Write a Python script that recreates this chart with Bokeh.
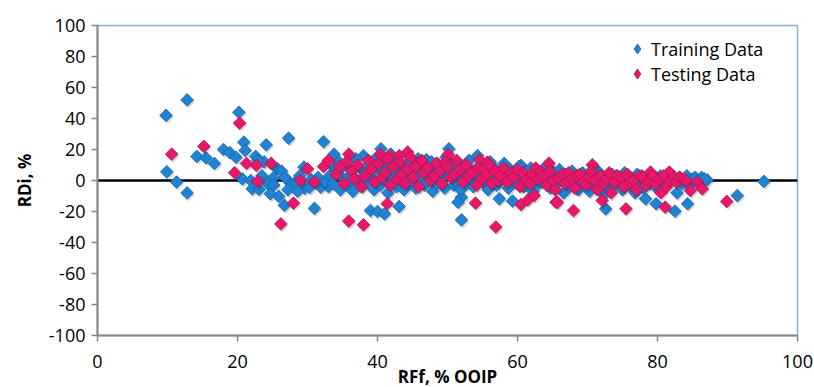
import numpy as np
from bokeh.plotting import figure
from bokeh.models import ColumnDataSource, Span, FixedTicker, Legend, LegendItem
from bokeh.transform import dodge
from bokeh.embed import file_html
from bokeh.resources import INLINE

# ---- data: RFf (% OOIP) vs relative deviation RDi (%) ----
train_rff = [
    9.8, 12.8, 9.9, 11.3, 12.8, 14.2, 15.5, 16.7, 18.0, 18.9, 19.8, 20.2,
    20.9, 21.1, 20.7, 22.6, 24.1, 21.9, 22.1, 23.1, 25.1, 25.7, 26.3, 24.7,
    25.9, 26.7, 27.3, 27.6, 29.5, 31.0, 32.3, 31.9, 33.0, 29.6, 30.3, 30.5,
    23.5, 24.3, 26.8, 28.3, 28.9, 31.5, 32.6, 27.2, 28.6, 23.8, 22.9, 25.2,
    33.8, 38.0, 40.5, 47.0, 50.2, 51.4, 54.3, 60.5, 39.0, 40.0, 41.0, 43.1,
    52.0, 51.5, 52.0, 57.4, 59.3, 95.2, 91.4, 87.1, 84.3, 82.5, 79.8, 78.3, 72.6,
    33.2, 33.6, 33.9, 34.3, 34.7, 34.5, 35.1, 35.4, 35.8, 36.2, 36.5, 36.9,
    37.1, 37.5, 37.8, 38.3, 38.6, 38.9, 39.2, 39.5, 39.7, 39.9, 40.2, 40.4,
    40.7, 40.9, 41.2, 41.5, 41.7, 41.9, 42.1, 42.4, 42.7, 42.9, 43.3, 43.6,
    43.8, 44.1, 44.3, 44.6, 44.9, 45.2, 45.5, 45.8, 46.1, 46.4, 46.7, 47.2,
    47.5, 47.7, 47.9, 48.2, 48.5, 48.8, 49.1, 49.3, 49.6, 49.8, 50.3, 50.6,
    50.9, 51.1, 51.6, 51.9, 52.3, 52.6, 52.8, 53.1, 53.3, 53.7, 54.0, 54.5,
    54.8, 55.0, 55.3, 55.5, 55.8, 56.1, 56.4, 56.7, 57.0, 57.3, 57.7, 58.1,
    58.4, 58.7, 59.0, 59.4, 59.6, 59.9, 60.2, 60.7, 60.9, 61.3, 61.6, 61.9,
    62.2, 62.5, 62.8, 63.1, 63.4, 63.8, 64.1, 64.4, 64.7, 65.0, 65.3, 65.7,
    66.0, 66.3, 66.6, 66.9, 67.2, 67.5, 67.8, 68.1, 68.4, 68.7, 69.0, 69.3,
    69.7, 70.0, 70.3, 70.6, 70.9, 71.2, 71.5, 71.8, 72.1, 72.4, 72.9, 73.2,
    73.5, 73.8, 74.1, 74.4, 74.7, 75.0, 75.3, 75.6, 75.9, 76.2, 76.5, 76.8,
    77.1, 77.4, 77.8, 78.0, 78.6, 78.9, 79.2, 79.5, 80.1, 80.4, 80.7, 81.0,
    81.4, 81.9, 82.2, 82.8, 83.1, 83.5, 83.9, 84.2, 84.6, 85.0, 85.4, 85.8, 86.3, 86.7,
]
train_rdi = [
    42, 52, 5.6, -1, -8, 15.5, 14.6, 11, 20, 18, 15, 44,
    24.7, 19.4, 1, 15.5, 23, 0, -5.4, -5.8, 1.7, 7.5, 6, -8.6,
    -10.3, -16, 27.3, -2, 8.6, -18, 25, -4.3, -4, -5, -4.5, 0.5,
    3, -2, 2, -1, 3, 2, -1, -6, -7, 12, 13, -3,
    17, 16, 20.4, 13.4, 20.4, 11.8, 16, 9.7, -19.4, -20, -21.5, -16.8,
    -10.8, -14, -25.4, -11.8, -13.3, -0.6, -9.7, 0.4, -15, -19.8, -15, -11.8, -18.3,
    3, -2, 8, 6, -6, 12, 1, 10, -3, 4, -7, 14,
    0, 8, -4, 5, -1, 11, 2, -6, 9, 15, 7, -3,
    12, 1, 4, -8, 10, 17, 0, 6, -4, 13, 3, 9,
    -6, 1, 11, -2, 7, 5, -5, 14, 2, 8, -3, 0,
    6, 12, -7, 4, -2, 9, 1, 7, -5, 15, 3, 10,
    -3, 0, 6, -6, 4, 9, -2, 13, 1, -4, 7, 3,
    10, -1, 0, 5, -6, 12, 2, 8, -3, -1, 4, 11,
    2, -5, 7, 0, 5, -2, 9, 3, -4, 6, 0, 8,
    -7, 2, -3, 5, -1, 4, 9, 1, -5, 6, 3, -2,
    7, 0, -8, 4, 2, -4, 6, -1, 3, -6, 1, 5,
    -3, 0, -7, 4, 2, -3, 6, -1, 3, -9, 1, -5,
    4, 0, 3, -3, 2, -6, 5, -1, 3, -4, 1, -8,
    4, 0, 3, -5, 2, -2, 4, 0, -6, 3, 1, -3,
    4, 0, 3, -8, 2, -2, 0, 3, -4, 1, 2, 0, 2, 1,
]

test_rff = [
    10.6, 15.2, 20.3, 19.6, 21.3, 22.7, 24.8, 22.9, 28.0, 26.2, 29.0, 30.0,
    31.0, 32.3, 33.0, 35.9, 40.4, 41.7, 43.1, 44.3, 45.7, 48.6, 50.1, 54.6,
    55.7, 64.5, 41.4, 35.9, 38.0, 54.0, 56.9, 60.5, 61.5, 62.4, 65.5, 70.7,
    81.7, 79.0, 85.7, 86.4, 84.7, 89.9, 81.1, 75.5, 72.1, 68.0, 65.7,
    34.1, 34.6, 35.2, 35.6, 36.3, 36.7, 37.2, 37.7, 38.2, 38.7, 39.1, 39.6,
    40.1, 40.6, 41.1, 41.4, 41.8, 42.3, 42.8, 43.2, 43.5, 43.9, 44.2, 44.7,
    45.1, 45.4, 45.9, 46.3, 46.6, 47.1, 47.6, 48.1, 48.4, 48.9, 49.2, 49.7,
    50.0, 50.5, 51.0, 51.3, 51.8, 52.2, 52.7, 53.0, 53.5, 54.2, 54.4, 54.9,
    55.2, 55.6, 56.0, 56.3, 56.8, 57.2, 57.6, 58.0, 58.5, 59.1, 59.5, 60.0,
    60.4, 60.8, 61.2, 61.8, 62.1, 62.6, 62.9, 63.3, 63.7, 64.2, 64.6, 65.1,
    65.4, 65.9, 66.4, 66.8, 67.3, 67.7, 68.2, 68.5, 68.9, 69.4, 69.8, 70.2,
    70.5, 71.0, 71.4, 71.9, 72.3, 72.7, 73.1, 73.4, 73.9, 74.3, 74.8, 75.2,
    75.7, 76.1, 76.6, 77.0, 77.5, 77.9, 78.4, 78.8, 79.3, 79.7, 80.2, 80.5,
    80.9, 81.3, 81.8, 82.3, 82.7, 83.2, 83.7, 84.1,
]
test_rdi = [
    17, 22, 37, 5, 11, 9.7, 11, -0.5, -14.6, -28, 0, 7.5,
    -1, 9, 13, 17, 16.8, 16, 16, 18.3, 10.7, 10.8, 16.8, 13.3,
    11.8, 11.2, -15, -26.2, -28.6, -14.6, -30, -15.5, -12.5, -9.7, -14, 10.1,
    5.4, 5.4, -1, -5.4, -6.5, -13.5, -17.2, -18.3, -12.9, -19.4, -14,
    4, 9, -2, 12, 6, 1, 10, -4, 3, 13, 7, -1,
    11, 2, 5, 14, -3, 9, 1, 12, 4, -2, 7, 15,
    2, 9, -4, 13, 5, 8, 0, 3, 11, 6, -2, 12,
    9, 2, 4, 13, 7, -1, 10, 3, 5, -3, 8, 1,
    7, 4, 10, -2, 6, 0, 3, 8, -1, 5, 2, 7,
    -4, 5, 0, -2, 4, 8, 1, 6, 3, -3, 6, 0,
    -6, 2, 4, -2, 5, 1, -5, 3, 4, -1, -3, 2,
    6, 0, -6, 3, -2, 1, 5, -8, -1, 3, 2, -4,
    4, -1, 0, -6, 3, 2, -3, 0, 3, -2, 1, -8,
    3, -4, 0, 2, -1, 2, 1, 0,
]

x_ticks = [0, 20, 40, 60, 80, 100]
y_ticks = [-100, -80, -60, -40, -20, 0, 20, 40, 60, 80, 100]

FONT = "Open Sans"
BLUE, BLUE_EDGE = "#1f82d2", "#15609f"
PINK, PINK_EDGE = "#e5186a", "#b0124f"

p = figure(
    frame_width=700, frame_height=310,
    x_range=(0, 100), y_range=(-100, 100),
    min_border_left=97, min_border_right=17,
    min_border_top=25, min_border_bottom=52,
    output_backend="svg", toolbar_location=None,
)
p.background_fill_color = "white"
p.border_fill_color = "white"
p.grid.visible = False
p.outline_line_color = "#86aedf"
p.outline_line_width = 1.5

for ax in (p.xaxis[0], p.yaxis[0]):
    ax.axis_line_color = "#868686"
    ax.axis_line_width = 2
    ax.major_tick_line_color = "#868686"
    ax.major_tick_line_width = 1.5
    ax.major_tick_out = 6
    ax.major_tick_in = 0
    ax.minor_tick_line_color = None
    ax.major_label_text_font = FONT
    ax.major_label_text_font_size = "18px"
    ax.major_label_text_color = "black"
    ax.axis_label_text_font = FONT
    ax.axis_label_text_font_size = "17px"
    ax.axis_label_text_font_style = "bold"
    ax.axis_label_text_color = "black"

p.xaxis.ticker = FixedTicker(ticks=x_ticks)
p.yaxis.ticker = FixedTicker(ticks=y_ticks)
# plain hyphen for negative tick labels
p.xaxis.major_label_overrides = {t: str(t) for t in x_ticks}
p.yaxis.major_label_overrides = {t: str(t) for t in y_ticks}
p.xaxis.axis_label = "RFf, % OOIP"
p.yaxis.axis_label = "RDi, %"
p.xaxis.major_label_standoff = 13
p.xaxis.axis_label_standoff = -6
p.yaxis.major_label_standoff = 6
p.yaxis.axis_label_standoff = 10

zero = Span(location=0, dimension="width", line_color="black", line_width=2.5, level="underlay")
p.add_layout(zero)

src_train = ColumnDataSource(dict(x=train_rff, y=train_rdi))
src_test = ColumnDataSource(dict(x=test_rff, y=test_rdi))

ang = np.pi / 4

def shadow(src):
    p.scatter(x=dodge("x", 0.2, range=p.x_range), y=dodge("y", -1.3, range=p.y_range),
              source=src, marker="square", size=9, angle=ang,
              fill_color="black", fill_alpha=0.16, line_color=None)

shadow(src_train)
p.scatter("x", "y", source=src_train, marker="square", size=9, angle=ang,
          fill_color=BLUE, line_color=BLUE_EDGE, line_width=0.8)
shadow(src_test)
p.scatter("x", "y", source=src_test, marker="square", size=9, angle=ang,
          fill_color=PINK, line_color=PINK_EDGE, line_width=0.8)

# legend keys: diamond renderers holding one non-finite point, so they draw
# nothing inside the frame (legend glyphs are always drawn unrotated)
key_src = ColumnDataSource(dict(x=[np.nan], y=[np.nan]))
k_train = p.scatter("x", "y", source=key_src, marker="diamond",
                    fill_color=BLUE, line_color=BLUE_EDGE, line_width=0.8)
k_test = p.scatter("x", "y", source=key_src, marker="diamond",
                   fill_color=PINK, line_color=PINK_EDGE, line_width=0.8)

legend = Legend(
    items=[LegendItem(label="Training Data", renderers=[k_train]),
           LegendItem(label="Testing Data", renderers=[k_test])],
    location=(526, 249),
    border_line_color=None, background_fill_alpha=0,
    label_text_font=FONT, label_text_font_size="18px", label_text_color="black",
    glyph_width=28, glyph_height=25, label_height=20, label_standoff=0,
    spacing=0, padding=3, margin=0,
)
p.add_layout(legend)

open("out.html", "w").write(file_html(p, INLINE))
